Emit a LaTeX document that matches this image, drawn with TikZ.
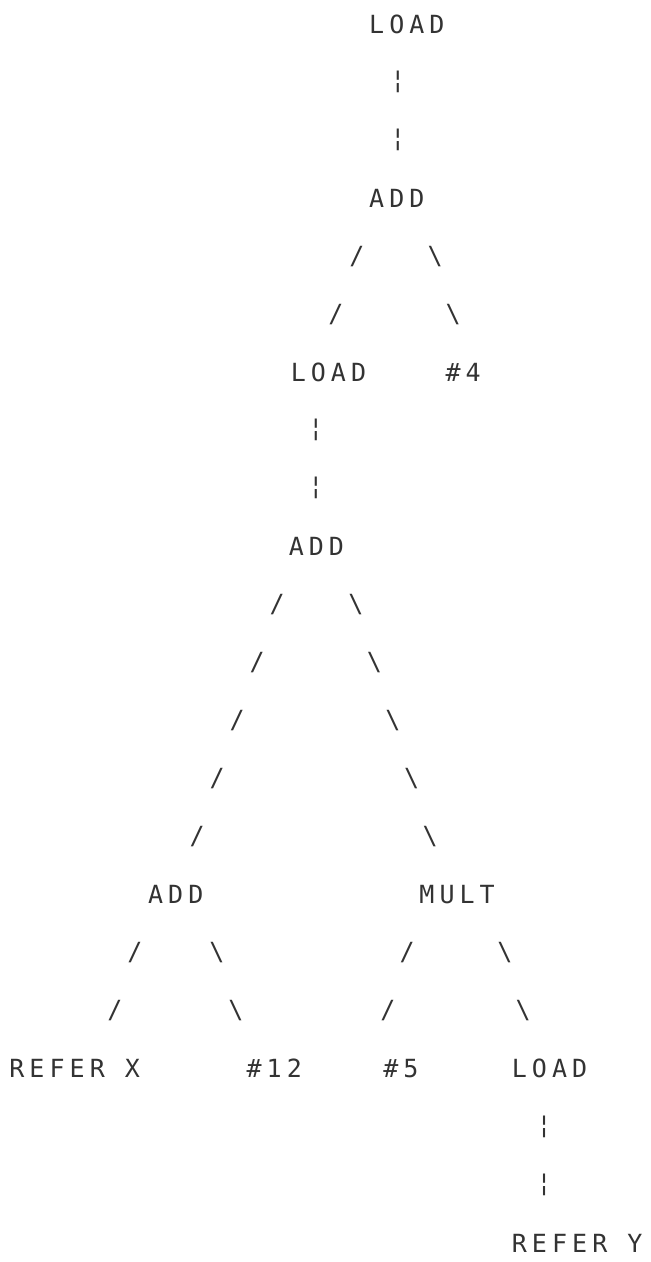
\documentclass[tikz,border=0pt]{standalone}
\usepackage{fontspec}
\newfontfamily\plotfont[LetterSpace=20.2]{DejaVu Sans Mono}
\newfontfamily\edgefont{DejaVu Sans Mono}
\usetikzlibrary{calc}
\tikzset{
word/.style={anchor=west, inner sep=0, text height=9.1pt, text depth=0pt, font=\plotfont\fontsize{12.5}{12.5}\selectfont, text=black!80},
edgechar/.style={inner sep=0, font=\edgefont\fontsize{12.5}{12.5}\selectfont, text=black!80}}
% one branch: characters spaced evenly between two points near parent and child
\newcommand\branch[6]{%
  \coordinate (s) at ($(#1.west)+(#2,0)$);
  \coordinate (e) at ($(#3.west)+(#4,0)$);
  \foreach \k [evaluate=\k as \f using \k/(#6+1)] in {1,...,#6}
    \node [edgechar] at ($(s)!\f!(e)$) {#5};
}

\begin{document}
\begin{tikzpicture}[x=10.05pt, y=-29.025pt]
\useasboundingbox[fill=white] (-0.448,-0.413) rectangle (31.94,21.327);
% labels on the character grid (column, row)
\node [word] at (17.9, 0) (load-1) {LOAD};
\node [word] at (17.9, 3) (add-1) {ADD};
\node [word] at (14, 6) (load-2) {LOAD};
\node [word] at (21.7, 6) (num-4) {\#4};
\node [word] at (13.9, 9) (add-2) {ADD};
\node [word] at (6.9, 15) (add-3) {ADD};
\node [word] at (20.4, 15) (mult) {MULT};
\node [word] at (0, 18) (refer-x) {REFER X};
\node [word] at (11.8, 18) (num-12) {\#12};
\node [word] at (18.6, 18) (num-5) {\#5};
\node [word] at (25, 18) (load-3) {LOAD};
\node [word] at (25, 21) (refer-y) {REFER Y};
% branches
\branch{load-1}{1.45}{add-1}{1.45}{¦}{2}
\branch{add-1}{0.46}{load-2}{1.22}{/}{2}
\branch{add-1}{2.40}{num-4}{1.29}{\textbackslash}{2}
\branch{load-2}{1.27}{add-2}{1.37}{¦}{2}
\branch{add-2}{0.43}{add-3}{1.46}{/}{5}
\branch{add-2}{2.44}{mult}{1.47}{\textbackslash}{5}
\branch{add-3}{0.36}{refer-x}{4.28}{/}{2}
\branch{add-3}{2.50}{num-12}{0.44}{\textbackslash}{2}
\branch{mult}{0.35}{num-5}{-0.69}{/}{2}
\branch{mult}{3.38}{load-3}{1.47}{\textbackslash}{2}
\branch{load-3}{1.62}{refer-y}{1.62}{¦}{2}
\end{tikzpicture}
\end{document}
